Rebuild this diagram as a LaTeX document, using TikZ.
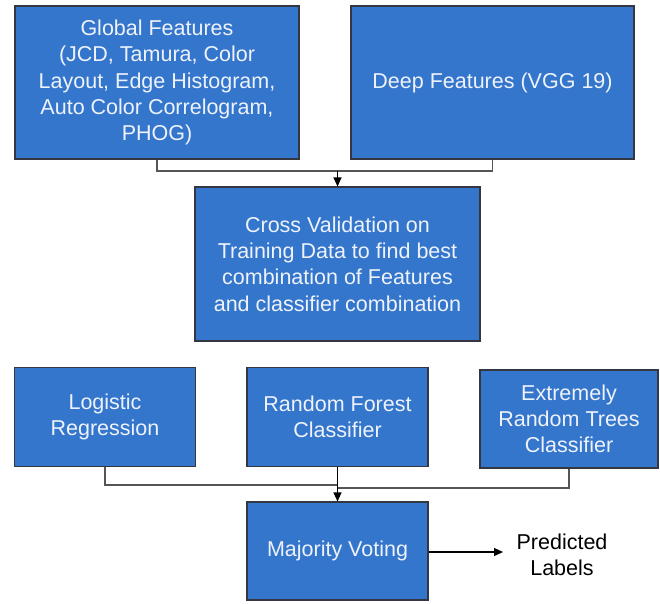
\documentclass[tikz,border=0pt]{standalone}
\usepackage{fontspec}
\setmainfont{Liberation Sans}
\usetikzlibrary{arrows.meta}
\definecolor{boxblue}{RGB}{53,118,205}
\definecolor{boxedge}{RGB}{50,55,65}
\definecolor{boxtext}{RGB}{238,242,250}
\definecolor{linegray}{RGB}{85,85,85}
\tikzset{
  blk/.style={draw=boxedge, line width=1.1pt, fill=boxblue, text=boxtext, align=center,
    inner sep=0pt, font=\fontsize{21.5}{26.3}\selectfont},
  conn/.style={draw=linegray, line width=1.1pt},
  arr/.style={draw=black, line width=1.1pt, -{Triangle[width=8pt,length=9pt]}}
}
\begin{document}
\begin{tikzpicture}[x=1pt,y=-1pt]
\useasboundingbox (0,0) rectangle (660,603);
\node[blk, minimum width=284pt, minimum height=153pt] (glob) at (157,82.5)
  {Global Features\\(JCD, Tamura, Color\\Layout, Edge Histogram,\\Auto Color Correlogram,\\PHOG)};
\node[blk, minimum width=283pt, minimum height=153pt] (deep) at (492.5,82.5)
  {Deep Features (VGG 19)};
\node[blk, minimum width=285pt, minimum height=154pt] (cv) at (337.5,264)
  {Cross Validation on\\Training Data to find best\\combination of Features\\and classifier combination};
\node[blk, minimum width=181pt, minimum height=99pt] (lr) at (105,417)
  {Logistic\\Regression};
\node[blk, minimum width=181pt, minimum height=99pt] (rf) at (337.5,417)
  {Random Forest\\Classifier};
\node[blk, minimum width=178pt, minimum height=98pt] (et) at (569,419)
  {Extremely\\Random Trees\\Classifier};
\node[blk, minimum width=181pt, minimum height=98pt] (mv) at (337.5,551)
  {Majority Voting};
\node[align=center, inner sep=0pt, font=\fontsize{21.5}{26.3}\selectfont] (pred) at (562,555)
  {Predicted\\Labels};
\coordinate (j1) at (337.5,171);
\coordinate (j2) at (337.5,485);
\coordinate (j3) at (337.5,488);
\coordinate (pend) at (503,552);
\draw[conn] (glob.south) |- (j1);
\draw[conn] (deep.south) |- (j1);
\draw[arr] (j1) -- (cv.north);
\draw[conn] (lr.south) |- (j2);
\draw[conn] (et.south) |- (j3);
\draw[arr] (rf.south) -- (mv.north);
\draw[arr] (mv.east |- pend) -- (pend);
\end{tikzpicture}
\end{document}
